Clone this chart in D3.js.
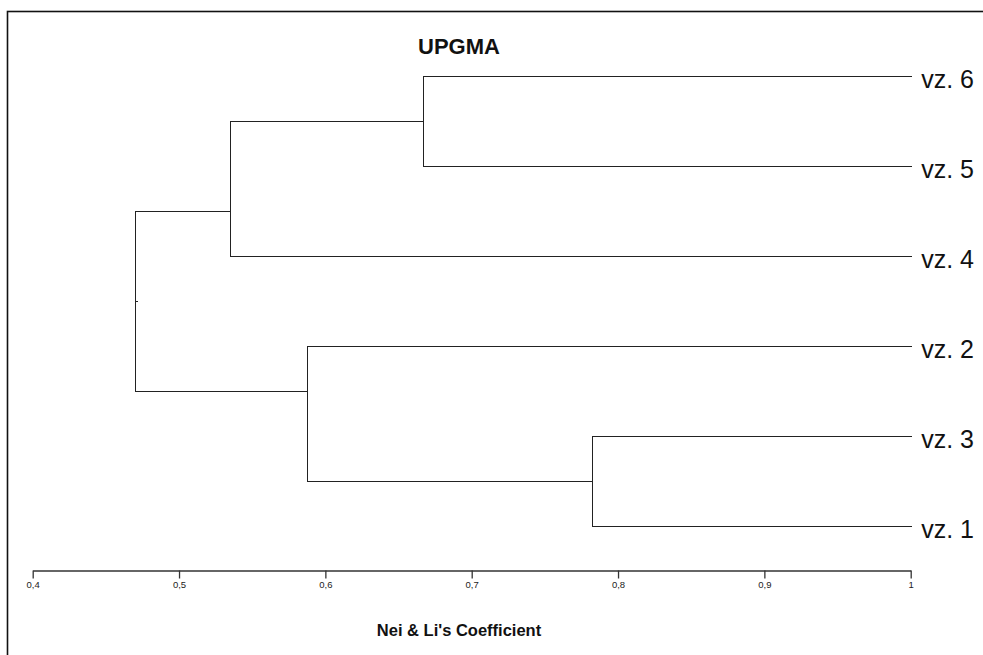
<!DOCTYPE html>
<html>
<head>
<meta charset="utf-8">
<script src="https://cdn.jsdelivr.net/npm/d3@7"></script>
<style>
  html, body { margin: 0; padding: 0; background: #fff; }
  svg { display: block; font-family: "Liberation Sans", Arial, sans-serif; }
</style>
</head>
<body>
<svg id="chart" width="983" height="655"></svg>
<script>
// leaves in the order they are drawn, top to bottom
const leaves = ["vz. 6", "vz. 5", "vz. 4", "vz. 2", "vz. 3", "vz. 1"]

// UPGMA joins: upper child, lower child, similarity level (clusters named C1..C5 in order)
const joinUpper = ["vz. 6", "vz. 3", "C1", "vz. 2", "C3"]
const joinLower = ["vz. 5", "vz. 1", "vz. 4", "C2", "C4"]
const joinLevel = [0.6665, 0.782, 0.535, 0.5875, 0.4701]

const tickValues = [0.4, 0.5, 0.6, 0.7, 0.8, 0.9, 1]
const tickLabels = ["0,4", "0,5", "0,6", "0,7", "0,8", "0,9", "1"]

const title = "UPGMA"
const axisTitle = "Nei & Li's Coefficient"

const svg = d3.select("#chart")

const x = d3.scaleLinear().domain([0.4, 1]).range([32.7, 910.7])
const y = d3.scaleLinear().domain([0, leaves.length - 1]).range([76, 526])

// frame
svg.append("rect")
    .attr("x", 7.5)
    .attr("y", 11.5)
    .attr("width", 1000)
    .attr("height", 700)
    .attr("fill", "none")
    .attr("stroke", "#111")
    .attr("stroke-width", 1.6)

// build nodes
const nodes = {}
leaves.forEach((name, i) => {
    nodes[name] = { level: 1, first: i, last: i, cy: y(i) }
})
joinLevel.forEach((lvl, i) => {
    const a = nodes[joinUpper[i]]
    const b = nodes[joinLower[i]]
    const node = {
        level: lvl,
        first: a.first,
        last: b.last,
        cy: (y(a.last) + y(b.first)) / 2,
        kids: [a, b],
    }
    a.parent = node
    b.parent = node
    nodes["C" + (i + 1)] = node
})

const segs = []
Object.values(nodes).forEach((n) => {
    if (n.parent) {
        segs.push({ x1: x(n.level), y1: n.cy, x2: x(n.parent.level), y2: n.cy })
    } else {
        // little stub at the root
        segs.push({ x1: x(n.level), y1: n.cy, x2: x(n.level) + 2, y2: n.cy })
    }
    if (n.kids) {
        segs.push({ x1: x(n.level), y1: n.kids[0].cy, x2: x(n.level), y2: n.kids[1].cy })
    }
})

svg.append("g")
    .selectAll("line")
    .data(segs)
    .join("line")
    .attr("x1", (d) => Math.round(d.x1) + 0.5)
    .attr("x2", (d) => Math.round(d.x2) + 0.5)
    .attr("y1", (d) => Math.round(d.y1) + 0.5)
    .attr("y2", (d) => Math.round(d.y2) + 0.5)
    .attr("stroke", "#222")
    .attr("stroke-width", 1)
    .attr("stroke-linecap", "square")

// leaf labels
svg.append("g")
    .selectAll("text")
    .data(leaves)
    .join("text")
    .attr("x", x(1) + 10.5)
    .attr("y", (d, i) => y(i) + 11.5)
    .attr("font-size", 25)
    .attr("fill", "#111")
    .text((d) => d)

// title
svg.append("text")
    .attr("x", 459)
    .attr("y", 53.5)
    .attr("text-anchor", "middle")
    .attr("font-size", 22)
    .attr("font-weight", "bold")
    .attr("fill", "#111")
    .text(title)

// axis
const axis = svg.append("g")
    .attr("transform", "translate(0, 570.5)")
    .call(
        d3.axisBottom(x)
            .tickValues(tickValues)
            .tickFormat((d, i) => tickLabels[i])
            .tickSize(8)
            .tickSizeOuter(0)
            .tickPadding(3)
    )
axis.select(".domain").attr("stroke", "#333").attr("stroke-width", 1.3)
axis.selectAll(".tick line").attr("stroke", "#333").attr("stroke-width", 1.3)
axis.selectAll(".tick text")
    .attr("font-size", 9.5)
    .attr("font-family", "Liberation Sans, Arial, sans-serif")
    .attr("fill", "#222")

svg.append("text")
    .attr("x", 459)
    .attr("y", 636)
    .attr("text-anchor", "middle")
    .attr("font-size", 16.5)
    .attr("font-weight", "bold")
    .attr("fill", "#111")
    .text(axisTitle)
</script>
</body>
</html>
